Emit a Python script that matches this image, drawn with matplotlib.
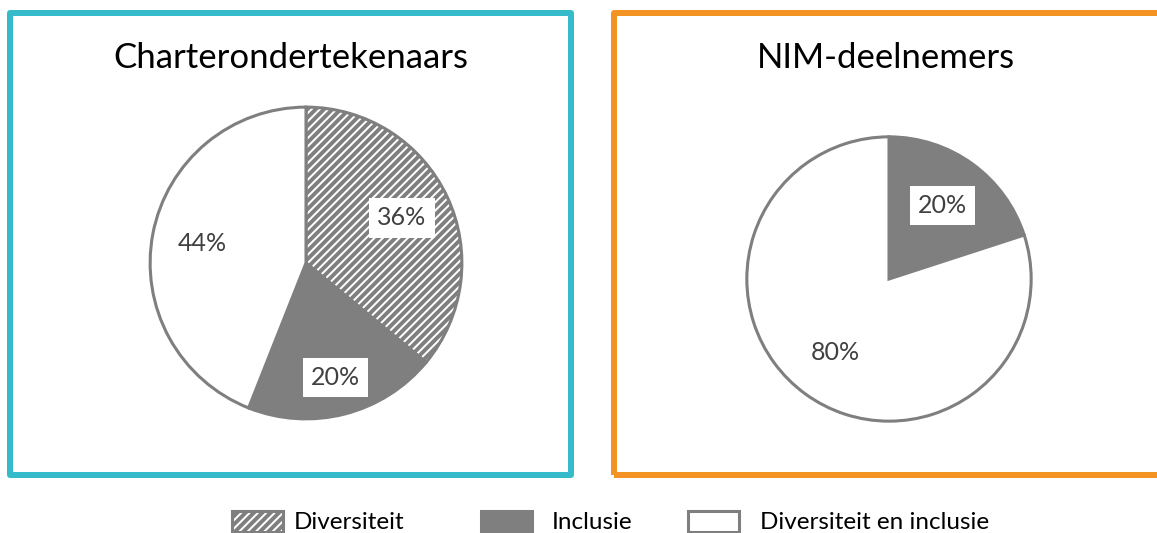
import matplotlib
matplotlib.use("Agg")
import numpy as np
import matplotlib.pyplot as plt
from matplotlib.patches import Rectangle

# ---- data ----
categories = ["Diversiteit", "Inclusie", "Diversiteit en inclusie"]
titles = ["Charterondertekenaars", "NIM-deelnemers"]
values_charter = [36, 20, 44]
values_nim = [0, 20, 80]

# ---- style ----
W, H = 1157, 533
DPI = 100
plt.rcParams['font.family'] = ['Lato', 'DejaVu Sans']
plt.rcParams['hatch.linewidth'] = 2.8
GRAY = '#7F7F7F'
TEXT = '#404040'
TEAL = '#36BBCA'
ORANGE = '#F39323'

fig = plt.figure(figsize=(W / DPI, H / DPI), dpi=DPI)
fig.patch.set_facecolor('white')

def px_rect(x0, y0, x1, y1, color):
    r = Rectangle((x0 / W, 1 - y1 / H), (x1 - x0) / W, (y1 - y0) / H,
                  transform=fig.transFigure, fill=False, edgecolor=color,
                  linewidth=6 * 72 / DPI, joinstyle='round', clip_on=False)
    fig.patches.append(r)

px_rect(10, 13, 571, 475, TEAL)
px_rect(614, 13, 1185, 475, ORANGE)

def add_pie(cx, cy, r, values, title, tx, ty, dists):
    ax = fig.add_axes([(cx - r) / W, 1 - (cy + r) / H, 2 * r / W, 2 * r / H])
    wedges, texts, autotexts = ax.pie(
        values, startangle=90, counterclock=False, radius=1,
        colors=['white', GRAY, 'white'],
        autopct=lambda p: f'{p:.0f}%' if p > 0.5 else '',
        pctdistance=0.68,
        wedgeprops=dict(edgecolor=GRAY, linewidth=2.2),
        textprops=dict(color=TEXT, fontsize=18))
    wedges[0].set_hatch('////')
    for w, t, d in zip(wedges, autotexts, dists):
        if t.get_text():
            ang = np.deg2rad((w.theta1 + w.theta2) / 2)
            t.set_position((d * np.cos(ang), d * np.sin(ang)))
            t.set_bbox(dict(facecolor='white', edgecolor='none', pad=6))
    ax.set_xlim(-1.02, 1.02)
    ax.set_ylim(-1.02, 1.02)
    ax.axis('off')
    fig.text(tx / W, 1 - ty / H, title, ha='center', va='center',
             fontsize=25, color='black')
    return wedges

wedges = add_pie(306, 263, 159, values_charter, titles[0], 291, 58,
                 [0.68, 0.76, 0.68])
add_pie(889, 279, 145, values_nim, titles[1], 886, 58, [0.65, 0.64, 0.64])

# legend: one entry per category, placed like the reference
leg_x = [232, 481, 688]
leg_pad = [0.45, 0.8, 0.85]
for w, lab, x, p in zip(wedges, categories, leg_x, leg_pad):
    lg = fig.legend([w], [lab], loc='center left',
                    bbox_to_anchor=(x / W, 1 - 522 / H), frameon=False,
                    fontsize=17.5, handlelength=2.1, handleheight=0.95,
                    handletextpad=p, borderpad=0, borderaxespad=0,
                    labelcolor='black')

fig.savefig('out.png', dpi=DPI, facecolor='white')
